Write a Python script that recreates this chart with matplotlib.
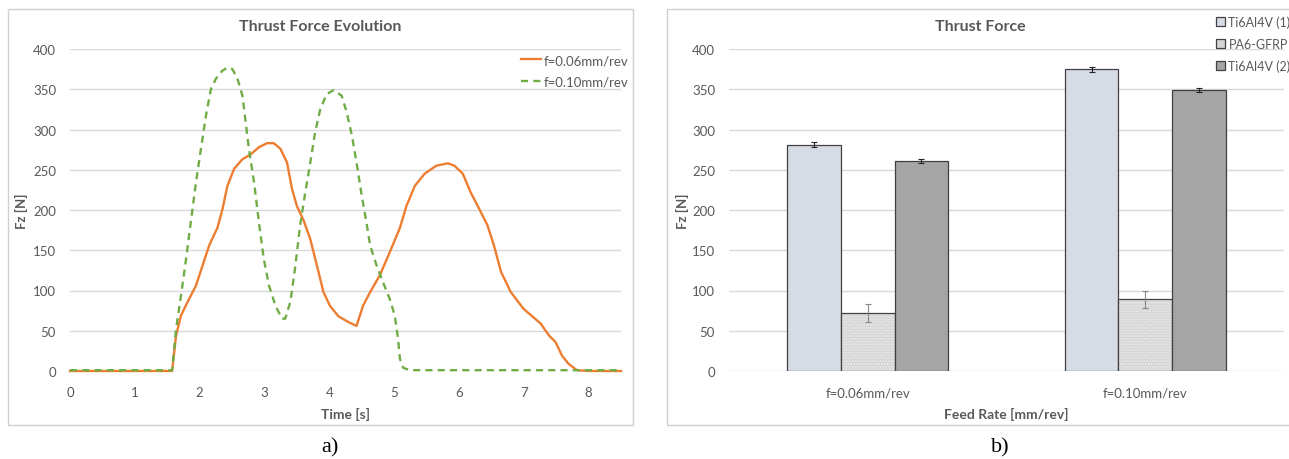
import numpy as np
import matplotlib
matplotlib.use("Agg")
from matplotlib import pyplot as plt
from matplotlib.patches import Rectangle

# --- data ---
t06 = [0, 0.5, 1.0, 1.5, 1.575, 1.636, 1.713, 1.815, 1.943, 2.045, 2.147, 2.275, 2.352, 2.428,
       2.531, 2.658, 2.786, 2.914, 3.04, 3.144, 3.246, 3.348, 3.425, 3.5, 3.604, 3.706,
       3.809, 3.91, 4.01, 4.14, 4.29, 4.42, 4.52, 4.63, 4.78, 4.93, 5.09, 5.19, 5.32,
       5.47, 5.65, 5.83, 5.93, 6.06, 6.18, 6.29, 6.44, 6.54, 6.65, 6.80, 7.00, 7.26,
       7.39, 7.49, 7.59, 7.69, 7.82, 8.0, 8.5]
f06 = [0, 0, 0, 0, 0, 44, 69, 86, 106, 131, 156, 178, 201, 230,
       251, 263, 269, 278, 283, 283, 276, 259, 226, 205, 187, 164,
       131, 98, 81, 68, 61, 56, 81, 98, 119, 147, 178, 205, 230,
       245, 255, 258, 255, 245, 222, 205, 181, 156, 123, 98, 77, 59,
       44, 36, 19, 9, 1, 0, 0]

t10 = [0, 0.5, 1.0, 1.5, 1.575, 1.636, 1.713, 1.79, 1.87, 1.943, 2.02, 2.097, 2.173, 2.25,
       2.35, 2.43, 2.505, 2.58, 2.66, 2.71, 2.76, 2.84, 2.914, 2.99, 3.07, 3.17, 3.27,
       3.32, 3.40, 3.477, 3.55, 3.63, 3.707, 3.78, 3.86, 3.96, 4.07, 4.19, 4.27, 4.35,
       4.42, 4.5, 4.58, 4.63, 4.73, 4.83, 4.93, 5.01, 5.06, 5.09, 5.14, 5.24, 5.5, 6.0,
       7.0, 8.0, 8.5]
f10 = [1, 1, 1, 1, 1, 52, 94, 139, 189, 234, 276, 317, 350, 363,
       373, 377, 375, 364, 342, 309, 276, 234, 185, 139, 106, 81, 65,
       65, 86, 131, 181, 222, 259, 296, 325, 344, 349, 342, 321, 292,
       259, 218, 181, 156, 131, 110, 90, 69, 40, 15, 4, 1, 1, 1,
       1, 1, 1]

feeds = ["f=0.06mm/rev", "f=0.10mm/rev"]
materials = ["Ti6Al4V (1)", "PA6-GFRP", "Ti6Al4V (2)"]
fz_mean = [[281, 375], [72, 89], [261, 349]]
fz_err = [[3, 3], [11, 11], [2, 2]]

# --- style ---
plt.rcParams['font.family'] = ['Lato', 'DejaVu Sans']
txt = '#595959'
grid = '#D9D9D9'

fig = plt.figure(figsize=(12.89, 4.6), dpi=100)

# panel frames
for x0, w in [(8, 625), (667, 640)]:
    fig.add_artist(Rectangle((x0 / 1289, 34 / 460), w / 1289, 416 / 460,
                             transform=fig.transFigure, fill=False,
                             ec='#D0D0D0', lw=1))


def style(ax):
    for s in ax.spines.values():
        s.set_visible(False)
    ax.set_ylim(0, 400)
    ax.set_yticks(range(0, 401, 50))
    ax.yaxis.grid(True, color=grid, lw=1)
    ax.set_axisbelow(True)
    ax.tick_params(length=0, labelsize=9.5, colors=txt)
    ax.tick_params(axis='y', pad=10)
    ax.tick_params(axis='x', pad=11)
    ax.set_ylabel("Fz [N]", fontsize=9.5, fontweight='bold', color=txt)


# a) line chart
ax1 = fig.add_axes([70 / 1289, 1 - 372 / 460, 551 / 1289, 322 / 460])
style(ax1)
ax1.plot(t06, f06, color='#ED7D31', lw=1.7, label=feeds[0], clip_on=False)
ax1.plot(t10, f10, color='#70AD47', lw=1.7, ls=(0, (3, 2.2)), label=feeds[1], clip_on=False)
ax1.set_xlim(0, 8.5)
ax1.set_xticks(range(0, 9))
ax1.set_xlabel("Time [s]", fontsize=10, fontweight='bold', color=txt, labelpad=6)
ax1.yaxis.set_label_coords(-0.076, 0.5)
fig.text(320 / 1289, 1 - 27 / 460, "Thrust Force Evolution", fontsize=11.5,
         fontweight='bold', color=txt, ha='center', va='center')
leg = ax1.legend(loc='upper right', bbox_to_anchor=(628 / 1289, 1 - 55 / 460),
                 bbox_transform=fig.transFigure, frameon=False, fontsize=9.5,
                 handlelength=1.5, handletextpad=0.15, labelspacing=0.75,
                 borderpad=0, borderaxespad=0)
for t in leg.get_texts():
    t.set_color(txt)

# b) bar chart
ax2 = fig.add_axes([729 / 1289, 1 - 372 / 460, 555 / 1289, 322 / 460])
style(ax2)
x = np.arange(len(feeds))
w = 0.193
faces = ['#D6DCE5', '#D4D4D4', '#A5A5A5']
ecol = ['#222222', '#888888', '#222222']
for i, m in enumerate(materials):
    pos = x + (i - 1) * w
    if i == 1:
        ax2.bar(pos, fz_mean[i], w, color=faces[i], hatch='......', ec='#EDEDED', lw=0)
        ax2.bar(pos, fz_mean[i], w, fill=False, ec='#404040', lw=0.9)
        ax2.bar([np.nan], [0], color=faces[i], ec='#404040', lw=0.9, label=m)
    else:
        ax2.bar(pos, fz_mean[i], w, color=faces[i], ec='#404040', lw=0.9, label=m)
    ax2.errorbar(pos, fz_mean[i], yerr=fz_err[i], fmt='none', ecolor=ecol[i],
                 elinewidth=0.8, capsize=2, capthick=0.8)
h, l = ax2.get_legend_handles_labels()
ax2.set_xlim(-0.5, 1.5)
ax2.set_xticks(x)
ax2.set_xticklabels(feeds)
ax2.set_xlabel("Feed Rate [mm/rev]", fontsize=10, fontweight='bold', color=txt, labelpad=6)
ax2.yaxis.set_label_coords(-0.072, 0.5)
fig.text(980 / 1289, 1 - 27 / 460, "Thrust Force", fontsize=11.5,
         fontweight='bold', color=txt, ha='center', va='center')
leg2 = ax2.legend(h, l, loc='upper left', bbox_to_anchor=(1216 / 1289, 1 - 16 / 460),
                  bbox_transform=fig.transFigure, frameon=False, fontsize=9,
                  handlelength=0.7, handleheight=0.7, handletextpad=0.3, labelspacing=0.8,
                  borderpad=0, borderaxespad=0)
for t in leg2.get_texts():
    t.set_color(txt)

fig.text(330 / 1289, 1 - 448 / 460, "a)", family='Liberation Serif', fontsize=16,
         ha='center', va='center')
fig.text(1000 / 1289, 1 - 448 / 460, "b)", family='Liberation Serif', fontsize=16,
         ha='center', va='center')

fig.savefig("out.png", dpi=100)
